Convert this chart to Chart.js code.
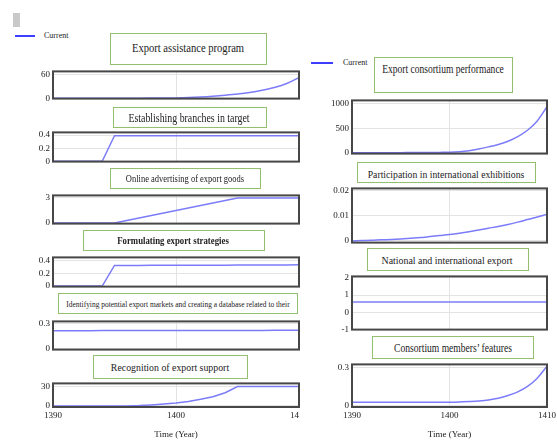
<!DOCTYPE html>
<html>
<head>
<meta charset="utf-8">
<script src="https://cdn.jsdelivr.net/npm/chart.js@4.4.1/dist/chart.umd.min.js"></script>
<style>
  body { margin: 0; background: #fff; }
  #stage { position: relative; width: 557px; height: 440px; overflow: hidden; font-family: 'Liberation Serif', 'Times New Roman', serif; color: #222; }
  #stage canvas { position: absolute; }
  .tbox { position: absolute; border: 1px solid #93c06e; background: #fff; box-sizing: border-box; z-index: 2; }
  .ttext { position: absolute; white-space: nowrap; line-height: 1; z-index: 3; transform-origin: 50% 50%; }
  .legline { position: absolute; height: 2px; background: #3d3dff; }
  .legtext { position: absolute; font-size: 8px; line-height: 1; transform: translateY(-50%); }
</style>
</head>
<body>
<div id="stage">
  <div style="position:absolute;left:13px;top:13px;width:7px;height:14px;background:#c9c9c9"></div>
  <div class="legline" style="left:15px;top:35px;width:20px"></div>
  <div class="legtext" style="left:44px;top:36px">Current</div>
  <div class="legline" style="left:311px;top:62px;width:22px"></div>
  <div class="legtext" style="left:343px;top:63px">Current</div>
</div>
<script>
// years on the x axis
const YEARS = [1390, 1391, 1392, 1393, 1394, 1395, 1396, 1397, 1398, 1399, 1400,
               1401, 1402, 1403, 1404, 1405, 1406, 1407, 1408, 1409, 1410];
const X_TICKS = [1390, 1400, 1410];

// left column
const ASSIST = [0, 0, 0, 0, 0, 0, 0.05, 0.15, 0.3, 0.5, 0.8, 1.6, 3, 5, 7.5, 10.5, 14.5, 20, 27, 37, 52];
const BRANCHES = [0, 0, 0, 0, 0, 0.39, 0.39, 0.39, 0.39, 0.39, 0.39, 0.39, 0.39, 0.39, 0.39, 0.39, 0.39, 0.39, 0.39, 0.39, 0.39];
const ONLINE = [0, 0, 0, 0, 0, 0, 0.3, 0.6, 0.9, 1.2, 1.5, 1.8, 2.1, 2.4, 2.7, 3, 3, 3, 3, 3, 3];
const STRATEGIES = [0, 0, 0, 0, 0, 0.325, 0.326, 0.326, 0.327, 0.327, 0.328, 0.328, 0.329, 0.33, 0.33, 0.331, 0.332, 0.332, 0.333, 0.334, 0.335];
const MARKETS = [0.212, 0.212, 0.212, 0.212, 0.213, 0.213, 0.213, 0.213, 0.214, 0.214, 0.214, 0.214, 0.214, 0.215, 0.215, 0.215, 0.215, 0.215, 0.216, 0.216, 0.216];
const RECOGNITION = [0, 0, 0, 0, 0, 0, 0, 0.5, 1.5, 2.8, 4.4, 6.8, 10, 14, 20, 29.5, 29.5, 29.5, 29.5, 29.5, 29.5];

// right column
const PERFORMANCE = [0, 0, 0.5, 1, 1.5, 2, 3, 4, 5, 7, 10, 20, 40, 75, 120, 170, 235, 330, 460, 650, 940];
const EXHIBITIONS = [0, 0.0001, 0.0002, 0.0004, 0.0005, 0.0007, 0.001, 0.0013, 0.0017, 0.0021, 0.0025,
                     0.003, 0.0036, 0.0043, 0.005, 0.0057, 0.0065, 0.0074, 0.0084, 0.0094, 0.0105];
const NATIONAL = [0.6, 0.6, 0.6, 0.6, 0.6, 0.6, 0.6, 0.6, 0.6, 0.6, 0.6, 0.6, 0.6, 0.6, 0.6, 0.6, 0.6, 0.6, 0.6, 0.6, 0.6];
const FEATURES = [0.025, 0.025, 0.025, 0.025, 0.025, 0.025, 0.025, 0.025, 0.025, 0.025, 0.025,
                  0.027, 0.031, 0.036, 0.044, 0.057, 0.078, 0.107, 0.15, 0.215, 0.31];

// y tick labels
const T_ASSIST = [0, 60];
const T_BRANCHES = [0, 0.2, 0.4];
const T_ONLINE = [0, 3];
const T_STRATEGIES = [0, 0.2, 0.4];
const T_MARKETS = [0, 0.3];
const T_RECOGNITION = [0, 30];
const T_PERFORMANCE = [0, 500, 1000];
const T_EXHIBITIONS = [0, 0.01, 0.02];
const T_NATIONAL = [-1, 0, 1, 2];
const T_FEATURES = [0, 0.3];

const LINE = '#7c7cfa';
const FRAME = '#474747';
const GRID = '#e3e3e3';
const INK = '#222';
const stage = document.getElementById('stage');

// dark frame round each plot area
const frame = {
  id: 'frame',
  afterDraw(chart) {
    const { ctx, chartArea: a } = chart;
    ctx.save();
    ctx.strokeStyle = FRAME;
    ctx.lineWidth = 2;
    ctx.strokeRect(a.left, a.top, a.right - a.left, a.bottom - a.top);
    ctx.restore();
  }
};

function addPanel(p) {
  const padL = 45, padT = 4;
  const padR = p.right ? 10 : 1;
  const padB = p.axis ? 0 : 4;
  const top = p.y1 - padT;
  const plotH = p.y2 - p.y1;
  const height = p.axis ? 440 - top : plotH + padT + padB;
  const width = p.x2 - p.x1 + padL + padR;
  const xH = p.axis ? height - padT - plotH : 0;

  const cv = document.createElement('canvas');
  cv.width = width;
  cv.height = height;
  cv.style.left = (p.x1 - padL) + 'px';
  cv.style.top = top + 'px';
  stage.appendChild(cv);

  new Chart(cv, {
    type: 'line',
    data: {
      datasets: [{
        data: p.values.map((v, i) => ({ x: YEARS[i], y: v })),
        borderColor: LINE,
        borderWidth: 1.5,
        pointRadius: 0,
        fill: false,
        tension: 0,
        cubicInterpolationMode: p.smooth ? 'monotone' : 'default'
      }]
    },
    options: {
      responsive: false,
      animation: false,
      events: [],
      devicePixelRatio: 1,
      layout: { autoPadding: false, padding: { left: 0, top: padT, right: padR, bottom: padB } },
      plugins: { legend: { display: false }, tooltip: { enabled: false } },
      scales: {
        x: {
          type: 'linear', min: 1390, max: 1410,
          afterBuildTicks: s => { s.ticks = X_TICKS.map(v => ({ value: v })); },
          afterFit: s => { s.height = xH; s.paddingLeft = 0; s.paddingRight = 0; },
          grid: { drawTicks: false, color: c => (c.tick && c.tick.value === 1400) ? GRID : 'rgba(0,0,0,0)' },
          border: { display: false },
          ticks: { display: !!p.axis, padding: 3, maxRotation: 0, autoSkip: false, color: INK,
                   font: { family: 'Liberation Serif', size: 9 }, callback: v => String(v) },
          title: { display: !!p.axis, text: 'Time (Year)', color: INK, padding: 0,
                   font: { family: 'Liberation Serif', size: 9 } }
        },
        y: {
          min: p.min, max: p.max,
          afterBuildTicks: s => { s.ticks = p.ticks.map(v => ({ value: v })); },
          afterFit: s => { s.width = padL; },
          grid: { drawTicks: false, color: GRID },
          border: { display: false },
          ticks: { padding: 3, color: INK, font: { family: 'Liberation Serif', size: 9 }, callback: v => String(v) }
        }
      }
    },
    plugins: [frame]
  });
}

function addTitle(t) {
  const box = document.createElement('div');
  box.className = 'tbox';
  box.style.left = t.x1 + 'px';
  box.style.top = t.y1 + 'px';
  box.style.width = (t.x2 - t.x1) + 'px';
  box.style.height = (t.y2 - t.y1) + 'px';
  stage.appendChild(box);

  const sp = document.createElement('span');
  sp.className = 'ttext';
  sp.textContent = t.text;
  sp.style.fontSize = t.size + 'px';
  if (t.bold) sp.style.fontWeight = 'bold';
  sp.style.left = t.cx + 'px';
  sp.style.top = t.cy + 'px';
  stage.appendChild(sp);
  const w = sp.offsetWidth;
  sp.style.transform = 'translate(-50%, -50%) scaleX(' + (t.w / w).toFixed(3) + ')';
}

// left column
addPanel({ x1: 53, x2: 299, y1: 67, y2: 103, min: -1, max: 67.6, ticks: T_ASSIST, values: ASSIST, smooth: true });
addPanel({ x1: 53, x2: 299, y1: 128, y2: 166, min: -0.006, max: 0.441, ticks: T_BRANCHES, values: BRANCHES });
addPanel({ x1: 53, x2: 299, y1: 191, y2: 228, min: -0.064, max: 3.3, ticks: T_ONLINE, values: ONLINE });
addPanel({ x1: 53, x2: 299, y1: 253, y2: 291, min: -0.0085, max: 0.452, ticks: T_STRATEGIES, values: STRATEGIES });
addPanel({ x1: 53, x2: 299, y1: 317, y2: 354, min: -0.0117, max: 0.321, ticks: T_MARKETS, values: MARKETS });
addPanel({ x1: 53, x2: 299, y1: 379, y2: 407, min: -1.67, max: 34.2, ticks: T_RECOGNITION, values: RECOGNITION, axis: true });

// right column
addPanel({ x1: 352, x2: 547, y1: 96, y2: 158, min: -17.5, max: 1070, ticks: T_PERFORMANCE, values: PERFORMANCE, smooth: true, right: true });
addPanel({ x1: 352, x2: 547, y1: 184, y2: 247, min: -0.00068, max: 0.0207, ticks: T_EXHIBITIONS, values: EXHIBITIONS, smooth: true, right: true });
addPanel({ x1: 352, x2: 547, y1: 272, y2: 334, min: -1.015, max: 2.085, ticks: T_NATIONAL, values: NATIONAL, right: true });
addPanel({ x1: 352, x2: 547, y1: 360, y2: 407, min: -0.012, max: 0.3236, ticks: T_FEATURES, values: FEATURES, smooth: true, right: true, axis: true });

// green title boxes
addTitle({ x1: 110, y1: 33, x2: 267, y2: 65, cx: 187.5, cy: 47.7, w: 112, size: 13.5, text: 'Export assistance program' });
addTitle({ x1: 113, y1: 107, x2: 267, y2: 128, cx: 188.8, cy: 119, w: 121, size: 11.5, text: 'Establishing branches in target' });
addTitle({ x1: 110, y1: 168, x2: 261, y2: 189, cx: 185, cy: 179, w: 118, size: 10.5, text: 'Online advertising of export goods' });
addTitle({ x1: 83, y1: 230, x2: 265, y2: 251, cx: 173.3, cy: 240.7, w: 112, size: 10.5, bold: true, text: 'Formulating export strategies' });
addTitle({ x1: 58, y1: 293, x2: 298, y2: 314, cx: 177.7, cy: 304, w: 223, size: 9, text: 'Identifying potential export markets and creating a database related to their' });
addTitle({ x1: 93, y1: 355, x2: 248, y2: 379, cx: 170, cy: 367.3, w: 118, size: 11, text: 'Recognition of export support' });
addTitle({ x1: 374, y1: 57, x2: 513, y2: 93, cx: 442.7, cy: 69.3, w: 122, size: 12.5, text: 'Export consortium performance' });
addTitle({ x1: 357, y1: 162, x2: 536, y2: 183, cx: 446, cy: 174, w: 157, size: 11, text: 'Participation in international exhibitions' });
addTitle({ x1: 367, y1: 248, x2: 529, y2: 271, cx: 447, cy: 261, w: 131, size: 10.5, text: 'National and international export' });
addTitle({ x1: 372, y1: 336, x2: 534, y2: 359, cx: 452.5, cy: 347.7, w: 118, size: 12, text: 'Consortium members\u2019 features' });
</script>
</body>
</html>
